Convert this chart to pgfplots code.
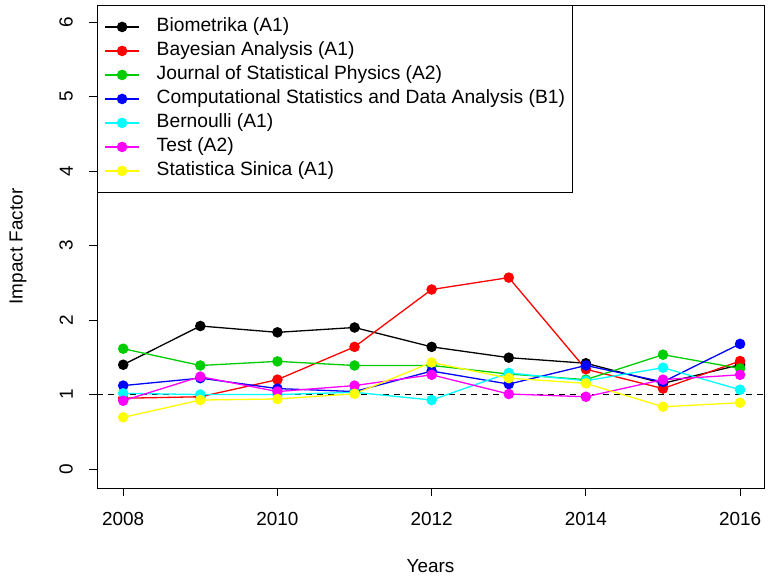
\documentclass[border=0pt]{standalone}
\usepackage{fontspec}
\setmainfont{Liberation Sans}
\usepackage{pgfplots}
\pgfplotsset{compat=1.18}
\definecolor{rgreen}{RGB}{0,205,0}
\definecolor{rcyan}{RGB}{0,255,255}
\definecolor{rmagenta}{RGB}{255,0,255}
\definecolor{ryellow}{RGB}{255,255,0}
\definecolor{rred}{RGB}{255,0,0}
\definecolor{rblue}{RGB}{0,0,255}

\newcommand{\fs}{\fontsize{19}{23}\selectfont}

\begin{document}
\begin{tikzpicture}
\useasboundingbox (-97bp,-89bp) rectangle (671bp,488bp);
\begin{axis}[
    at={(0,0)}, anchor=south west,
    scale only axis,
    width=667bp, height=483bp,
    xmin=2007.66, xmax=2016.31,
    ymin=-0.255, ymax=6.23,
    xtick={2008,2010,...,2016},
    ytick={0,1,...,6},
    xtick pos=bottom, ytick pos=left,
    tick align=outside,
    major tick length=8bp,
    tick style={black, line width=0.9bp},
    axis line style={line width=0.9bp},
    /pgf/number format/assume math mode=true,
    x tick label style={/pgf/number format/1000 sep={}},
    tick label style={font=\fs, inner sep=0pt},
    yticklabel style={rotate=90, anchor=south},
    yticklabel shift=16bp,
    xticklabel shift=16bp,
    xlabel={Years}, ylabel={Impact Factor},
    label style={font=\fs},
    xlabel style={at={(axis description cs:0.5,-0.1615)}, anchor=center},
    ylabel style={at={(axis description cs:-0.1184,0.5)}, anchor=center},
    ser/.style={#1, line width=1.3bp, mark=*, mark size=4.6bp, mark options={solid, fill=#1, draw=#1}},
    legend cell align=left,
    legend style={at={(0,1)}, anchor=north west, draw=black, line width=0.9bp,
        font=\fontsize{19.3}{23}\selectfont, inner xsep=7bp, inner ysep=13bp, row sep=7bp,
        nodes={inner sep=0pt, text height=13bp, text depth=4bp}},
    legend image code/.code={
        \draw[#1, mark repeat=2, mark phase=2] plot coordinates {(0bp,0bp) (17bp,0bp) (34bp,0bp)};
        \path (51bp,0bp);},
]
\addplot[black, dashed, dash pattern=on 6bp off 5bp, mark=none, line width=1.1bp, forget plot]
    coordinates {(2007.66,1) (2016.31,1)};
\addplot[ser=black] coordinates {
    (2008,1.40) (2009,1.92) (2010,1.835) (2011,1.90) (2012,1.64)
    (2013,1.495) (2014,1.42) (2015,1.15) (2016,1.40)};
\addlegendentry{Biometrika (A1)}
\addplot[ser=rred] coordinates {
    (2008,0.95) (2009,0.97) (2010,1.20) (2011,1.64) (2012,2.41)
    (2013,2.57) (2014,1.34) (2015,1.08) (2016,1.45)};
\addlegendentry{Bayesian Analysis (A1)}
\addplot[ser=rgreen] coordinates {
    (2008,1.615) (2009,1.39) (2010,1.445) (2011,1.39) (2012,1.39)
    (2013,1.275) (2014,1.20) (2015,1.535) (2016,1.35)};
\addlegendentry{Journal of Statistical Physics (A2)}
\addplot[ser=rblue] coordinates {
    (2008,1.12) (2009,1.22) (2010,1.08) (2011,1.04) (2012,1.315)
    (2013,1.14) (2014,1.39) (2015,1.17) (2016,1.68)};
\addlegendentry{Computational Statistics and Data Analysis (B1)}
\addplot[ser=rcyan] coordinates {
    (2008,1.016) (2009,1.00) (2010,1.00) (2011,1.03) (2012,0.926)
    (2013,1.29) (2014,1.185) (2015,1.36) (2016,1.065)};
\addlegendentry{Bernoulli (A1)}
\addplot[ser=rmagenta] coordinates {
    (2008,0.917) (2009,1.24) (2010,1.04) (2011,1.12) (2012,1.265)
    (2013,1.007) (2014,0.97) (2015,1.20) (2016,1.265)};
\addlegendentry{Test (A2)}
\addplot[ser=ryellow] coordinates {
    (2008,0.694) (2009,0.926) (2010,0.94) (2011,1.01) (2012,1.43)
    (2013,1.22) (2014,1.15) (2015,0.836) (2016,0.89)};
\addlegendentry{Statistica Sinica (A1)}
\end{axis}
\end{tikzpicture}
\end{document}
